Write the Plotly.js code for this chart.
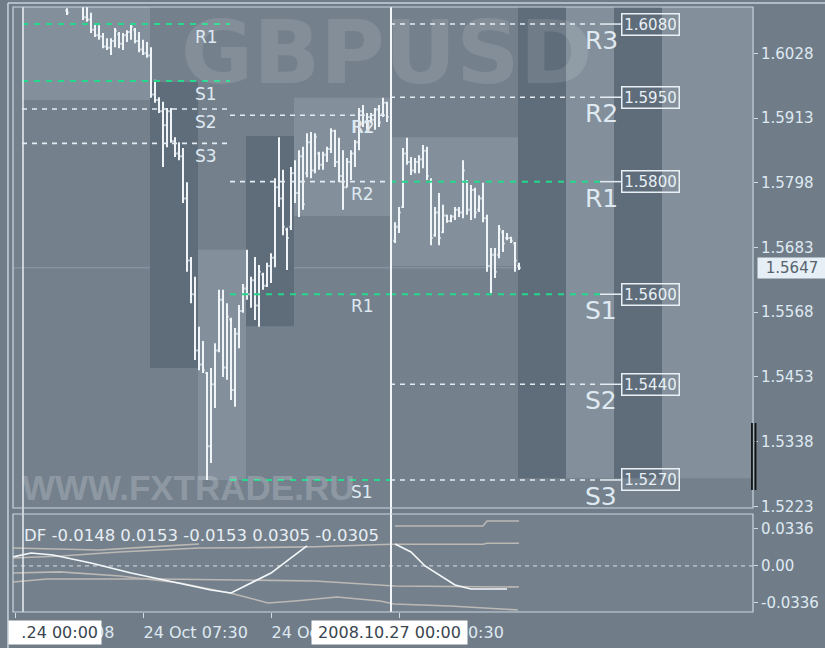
<!DOCTYPE html>
<html><head><meta charset="utf-8">
<script src="https://cdn.plot.ly/plotly-3.0.1.min.js"></script>
<style>html,body{margin:0;padding:0;background:#707d89;}</style>
</head><body>
<div id="chart" style="width:825px;height:648px"></div>
<script>
// ---- OHLC bars (15-minute GBPUSD), index 81 = Monday 00:00 bar hidden under separator ----
const barOpen = [1.6104,1.6125,1.6120,1.6118,1.6112,1.6092,1.6088,1.6070,1.6060,1.6058,1.6040,1.6038,1.6050,1.6062,1.6045,1.6060,1.6066,1.6070,1.6050,1.6035,
1.6028,1.6024,1.5955,1.5945,1.5925,1.5900,1.5925,1.5872,1.5850,1.5845,1.5770,1.5660,1.5600,1.5500,1.5475,1.5460,1.5330,1.5440,1.5500,1.5590,
1.5470,1.5555,1.5430,1.5530,1.5570,1.5610,1.5600,1.5625,1.5580,1.5635,1.5615,1.5650,1.5665,1.5790,1.5770,1.5715,1.5720,1.5815,1.5780,1.5845,
1.5815,1.5870,1.5820,1.5850,1.5830,1.5848,1.5858,1.5890,1.5835,1.5810,1.5790,1.5835,1.5850,1.5870,1.5925,1.5905,1.5915,1.5910,1.5928,1.5920,
1.5940,null,1.5695,1.5720,1.5755,1.5850,1.5835,1.5820,1.5835,1.5840,1.5855,1.5800,1.5705,1.5745,1.5710,1.5740,1.5730,1.5738,1.5750,1.5745,
1.5800,1.5750,1.5785,1.5750,1.5770,1.5735,1.5650,1.5670,1.5670,1.5710,1.5700,1.5700,1.5690,1.5650];
const barHigh = [1.6108,1.6135,1.6130,1.6126,1.6118,1.6115,1.6100,1.6082,1.6078,1.6064,1.6055,1.6055,1.6073,1.6066,1.6064,1.6069,1.6082,1.6073,1.6066,1.6052,
1.6048,1.6039,1.5981,1.5950,1.5942,1.5931,1.5931,1.5879,1.5870,1.5860,1.5799,1.5666,1.5631,1.5542,1.5517,1.5462,1.5469,1.5513,1.5608,1.5608,
1.5584,1.5558,1.5540,1.5581,1.5618,1.5679,1.5631,1.5666,1.5652,1.5638,1.5656,1.5673,1.5806,1.5879,1.5821,1.5718,1.5826,1.5838,1.5856,1.5862,
1.5886,1.5888,1.5886,1.5853,1.5853,1.5862,1.5895,1.5892,1.5878,1.5856,1.5842,1.5856,1.5874,1.5931,1.5936,1.5922,1.5922,1.5931,1.5936,1.5949,
1.5942,null,1.5728,1.5755,1.5860,1.5878,1.5844,1.5842,1.5847,1.5865,1.5862,1.5806,1.5755,1.5780,1.5759,1.5741,1.5741,1.5755,1.5755,1.5838,
1.5803,1.5794,1.5789,1.5776,1.5798,1.5741,1.5682,1.5682,1.5723,1.5714,1.5709,1.5702,1.5693,1.5656];
const barLow = [1.6096,1.6115,1.6114,1.6112,1.6087,1.6084,1.6064,1.6057,1.6052,1.6037,1.6034,1.6025,1.6039,1.6037,1.6034,1.6048,1.6052,1.6046,1.6030,1.6025,
1.6020,1.5949,1.5940,1.5922,1.5826,1.5861,1.5869,1.5844,1.5838,1.5762,1.5640,1.5584,1.5483,1.5465,1.5460,1.5270,1.5300,1.5398,1.5497,1.5453,
1.5448,1.5412,1.5400,1.5504,1.5567,1.5590,1.5576,1.5554,1.5542,1.5608,1.5613,1.5620,1.5648,1.5755,1.5705,1.5643,1.5714,1.5762,1.5737,1.5750,
1.5808,1.5806,1.5815,1.5821,1.5821,1.5835,1.5851,1.5826,1.5799,1.5750,1.5790,1.5803,1.5826,1.5856,1.5897,1.5892,1.5904,1.5892,1.5897,1.5915,
1.5906,null,1.5691,1.5709,1.5753,1.5830,1.5812,1.5815,1.5815,1.5824,1.5803,1.5687,1.5702,1.5687,1.5709,1.5727,1.5728,1.5732,1.5737,1.5735,
1.5741,1.5732,1.5735,1.5746,1.5728,1.5640,1.5602,1.5629,1.5664,1.5675,1.5696,1.5691,1.5640,1.5643];
const barClose = [1.6100,1.6120,1.6118,1.6115,1.6092,1.6088,1.6070,1.6060,1.6058,1.6040,1.6038,1.6050,1.6068,1.6045,1.6060,1.6066,1.6075,1.6050,1.6035,1.6028,
1.6024,1.5955,1.5945,1.5925,1.5900,1.5925,1.5872,1.5850,1.5845,1.5770,1.5660,1.5600,1.5500,1.5475,1.5465,1.5330,1.5440,1.5500,1.5590,1.5470,
1.5560,1.5430,1.5530,1.5570,1.5610,1.5600,1.5625,1.5580,1.5640,1.5615,1.5650,1.5665,1.5790,1.5770,1.5720,1.5700,1.5815,1.5780,1.5845,1.5760,
1.5870,1.5820,1.5880,1.5830,1.5848,1.5858,1.5890,1.5835,1.5810,1.5790,1.5835,1.5850,1.5870,1.5925,1.5905,1.5915,1.5910,1.5928,1.5905,1.5940,
1.5915,null,1.5720,1.5745,1.5850,1.5835,1.5820,1.5835,1.5840,1.5855,1.5810,1.5700,1.5745,1.5700,1.5740,1.5730,1.5738,1.5750,1.5745,1.5820,
1.5750,1.5785,1.5745,1.5770,1.5735,1.5650,1.5670,1.5640,1.5715,1.5690,1.5700,1.5695,1.5660,1.5647];
const lastPrice = 1.5647;

// ---- pivot levels ----
const prevLevels = [1.6080, 1.5979, 1.5929, 1.5868];
const prevNames  = ["R1", "S1", "S2", "S3"];
const prevGreen  = [true, true, false, false];
const midLevels  = [1.5918, 1.5800, 1.5600, 1.5270];
const midNames   = ["R1", "R2", "R1", "S1"];
const midGreen   = [false, false, true, true];
const curLevels  = [1.6080, 1.5950, 1.5800, 1.5600, 1.5440, 1.5270];
const curNames   = ["R3", "R2", "R1", "S1", "S2", "S3"];
const curGreen   = [false, false, true, true, false, false];

// ---- DF indicator lines (bar index, value) ----
const dfWhiteX = [-13.5,-9,-3.5,6,16,27,36,41,45,51,56,60,null,82,86,89.5,93,97,101,110];
const dfWhite  = [0.0082,0.0118,0.0100,0.0027,-0.0064,-0.0145,-0.0218,-0.0245,-0.0173,-0.0064,0.0073,0.0182,null,0.0200,0.0127,0.0000,-0.0082,-0.0173,-0.0209,-0.0209];
const dfG1X = [-13.5,-3.5,8,21,33];
const dfG1  = [0.0163,0.0154,0.0145,0.0173,0.0200];
const dfG2X = [-13.5,-1.5,13,33,45,62,81,104,105,113];
const dfG2  = [0.0073,0.0091,0.0127,0.0163,0.0166,0.0175,0.0197,0.0197,0.0206,0.0206];
const dfAX  = [82,104,105,113];
const dfA   = [0.0363,0.0363,0.0409,0.0409];
const dfCX  = [-13.5,-5,23,62,82,113];
const dfC   = [-0.0145,-0.0118,-0.0118,-0.0136,-0.0182,-0.0191];
const dfDX  = [-13.5,-1.75,13.25,28.25,41.75,50.25,57,67.5,78.25,81.75,95.75,112.75];
const dfD   = [-0.0064,-0.0054,-0.0091,-0.0154,-0.0254,-0.0336,-0.0318,-0.0282,-0.0318,-0.0345,-0.0363,-0.0400];
const dfReadout = "DF -0.0148 0.0153 -0.0153 0.0305 -0.0305";

// ---- axis ticks ----
const priceTicks = [1.6028,1.5913,1.5798,1.5683,1.5568,1.5453,1.5338,1.5223];
const dfTicks = [0.0336, 0, -0.0336];
const dfTickText = ["0.0336", "0.00", "-0.0336"];
const timeTickIdx = [-13, 19, 51, 83];
const timeTickText = ["24 Oct 2008", "24 Oct 07:30", "24 Oct 15:30", "27 Oct 00:30"];

const barX = barOpen.map((_, k) => k);
const WHITE = '#eef4f8', GREEN = '#22d98c', TXT = '#dfe9f1';
const LIGHT = '#83909c', DARK = '#5f6c7a';
const FONT = 'DejaVu Sans';

const traces = [];
traces.push({type:'ohlc', x: barX, open: barOpen, high: barHigh, low: barLow, close: barClose,
  xaxis:'x', yaxis:'y', tickwidth: 0.4, line:{width:2},
  increasing:{line:{color:WHITE, width:2}}, decreasing:{line:{color:WHITE, width:2}},
  hoverinfo:'skip', showlegend:false});

function lvl(x0, x1, v, green, dash) {
  traces.push({type:'scatter', mode:'lines', x:[x0,x1], y:[v,v], xaxis:'x', yaxis:'y',
    line:{color: green ? GREEN : '#e4ecf1', width: green ? 2 : 1.6, dash: dash},
    hoverinfo:'skip', showlegend:false});
}
prevLevels.forEach((v,k)=> lvl(-11.25, 40.75, v, prevGreen[k], prevGreen[k] ? '6px,6px' : '5px,5px'));
midLevels.forEach((v,k)=> lvl(40.75, 80.75, v, midGreen[k], midGreen[k] ? '6px,6px' : '5px,5px'));
curLevels.forEach((v,k)=> { lvl(80.75, 133.25, v, curGreen[k], curGreen[k] ? '6px,6px' : '5px,5px');
  traces.push({type:'scatter', mode:'lines', x:[133.25,138.5], y:[v,v], xaxis:'x', yaxis:'y',
    line:{color:'#e4ecf1', width:1.5}, hoverinfo:'skip', showlegend:false}); });

function df(x, y, color, w) {
  traces.push({type:'scatter', mode:'lines', x:x, y:y, xaxis:'x', yaxis:'y2', connectgaps:false,
    line:{color:color, width:w}, hoverinfo:'skip', showlegend:false});
}
const GREY = '#bcb8b4';
df(dfG1X, dfG1, GREY, 1.6); df(dfG2X, dfG2, GREY, 1.6); df(dfAX, dfA, GREY, 1.6);
df(dfCX, dfC, GREY, 1.6); df(dfDX, dfD, GREY, 1.6); df(dfWhiteX, dfWhite, '#f4f8fa', 1.6);

// ---- layout ----
const yMainDomain = [0.1719, 1], yDfDomain = [0, 0.162];
const shapes = [];
function rect(x0,x1,y0,y1,c){ shapes.push({type:'rect', xref:'x', yref:'y', x0, x1, y0, y1, fillcolor:c, line:{width:0}, layer:'below'}); }
rect(-11.25, 20.75, 1.5945, 1.62, LIGHT);
rect(20.75, 32.75, 1.5469, 1.5977, DARK);
rect(32.75, 44.75, 1.5270, 1.5679, LIGHT);
rect(44.75, 56.75, 1.5543, 1.5881, DARK);
rect(56.75, 80.75, 1.5739, 1.5949, LIGHT);
rect(80.75, 112.75, 1.5650, 1.5879, LIGHT);
rect(112.75, 124.75, 1.5273, 1.62, DARK);
rect(124.75, 136.75, 1.5273, 1.62, LIGHT);
rect(136.75, 148.75, 1.5273, 1.62, DARK);
rect(148.75, 171.25, 1.5273, 1.62, LIGHT);
// current price line
shapes.push({type:'line', xref:'paper', yref:'y', x0:0, x1:1, y0:lastPrice, y1:lastPrice, line:{color:'#8e9ba7', width:1}, layer:'below'});
// zero line in DF panel
shapes.push({type:'line', xref:'paper', yref:'y2', x0:0, x1:1, y0:0, y1:0, line:{color:'#c4ccd3', width:1.2, dash:'4px,4px'}, layer:'below'});
// day separators
shapes.push({type:'line', xref:'x', yref:'paper', x0:-11, x1:-11, y0:0, y1:1, line:{color:'#e8eef2', width:1.5}});
shapes.push({type:'line', xref:'x', yref:'paper', x0:81, x1:81, y0:0, y1:1, line:{color:'#f2f6f8', width:2}});
// panel frames
shapes.push({type:'rect', xref:'paper', yref:'paper', x0:0, x1:1, y0:yMainDomain[0], y1:1, line:{color:'#c9d7e2', width:1.2}});
shapes.push({type:'rect', xref:'paper', yref:'paper', x0:0, x1:1, y0:0, y1:yDfDomain[1], line:{color:'#c9d7e2', width:1.2}});
// window border
shapes.push({type:'line', xref:'paper', yref:'paper', x0:-0.0068, x1:-0.0068, y0:-0.06, y1:1.0066, line:{color:'#c5d3de', width:1.5}});
shapes.push({type:'line', xref:'paper', yref:'paper', x0:-0.0068, x1:1.1, y0:1.0066, y1:1.0066, line:{color:'#c5d3de', width:1.5}});
// black spread marker at right edge
shapes.push({type:'line', xref:'paper', yref:'paper', x0:0.9986, x1:0.9986, y0:0.2017, y1:0.3124, line:{color:'#111', width:1.8}});
shapes.push({type:'line', xref:'paper', yref:'paper', x0:1.0034, x1:1.0034, y0:0.2017, y1:0.3124, line:{color:'#111', width:1.8}});

const ann = [];
// watermarks
ann.push({xref:'paper', yref:'paper', x:0.505, y:0.924, text:'<b>GBPUSD</b>', showarrow:false,
  font:{family:FONT, size:88, color:'rgba(255,255,255,0.11)'}, xanchor:'center', yanchor:'middle'});
ann.push({xref:'paper', yref:'paper', x:0.0095, y:0.205, text:'<b>WWW.FXTRADE.RU</b>', showarrow:false,
  font:{family:'Liberation Sans', size:35, color:'rgba(255,255,255,0.2)'}, xanchor:'left', yanchor:'middle'});
// level labels
prevLevels.forEach((v,k)=> ann.push({xref:'x', yref:'y', x:31.5, y:v, yshift:-13, text:prevNames[k], showarrow:false,
  xanchor:'left', yanchor:'middle', font:{family:FONT, size:17, color:TXT}}));
midLevels.forEach((v,k)=> ann.push({xref:'x', yref:'y', x:70.5, y:v, yshift:-12, text:midNames[k], showarrow:false,
  xanchor:'left', yanchor:'middle', font:{family:FONT, size:17, color:TXT}}));
ann.push({xref:'x', yref:'y', x:70.5, y:midLevels[0], yshift:-12, xshift:1, text:'R2', showarrow:false,
  xanchor:'left', yanchor:'middle', font:{family:FONT, size:17, color:TXT}});
curLevels.forEach((v,k)=> {
  ann.push({xref:'x', yref:'y', x:129, y:v, yshift:-16.5, text:curNames[k], showarrow:false,
    xanchor:'left', yanchor:'middle', font:{family:FONT, size:25, color:TXT}});
  ann.push({xref:'x', yref:'y', x:138.5, y:v, text:v.toFixed(4), showarrow:false, xanchor:'left', yanchor:'middle',
    font:{family:FONT, size:15, color:'#e8f0f5'}, bordercolor:'#e8f0f5', borderwidth:1.5, borderpad:2, width:52, height:16});
});
// current price tag
ann.push({xref:'paper', yref:'y', x:1, xshift:4, y:lastPrice, text:lastPrice.toFixed(4), showarrow:false, xanchor:'left', yanchor:'middle',
  font:{family:FONT, size:15, color:'#56626e'}, bgcolor:'#e6eff5', borderpad:3, width:62, height:14});
// DF readout
ann.push({xref:'paper', yref:'paper', x:0.012, y:0.127, text:dfReadout, showarrow:false, xanchor:'left', yanchor:'middle',
  font:{family:FONT, size:16.5, color:'#e8eef3'}});
// crosshair time boxes
ann.push({xref:'paper', yref:'paper', x:-0.0068, y:-0.0347, text:'.24 00:00', showarrow:false, xanchor:'left', yanchor:'middle',
  font:{family:FONT, size:16, color:'#3a4550'}, bgcolor:'#ffffff', borderpad:3, width:86, height:17, align:'right'});
ann.push({xref:'x', yref:'paper', x:81, xshift:-2, y:-0.0347, text:'2008.10.27 00:00', showarrow:false, xanchor:'center', yanchor:'middle',
  font:{family:FONT, size:16, color:'#3a4550'}, bgcolor:'#ffffff', borderpad:3, width:149, height:17});

const layout = {
  width:825, height:648, margin:{l:13, r:72, t:7, b:36},
  paper_bgcolor:'#707d89', plot_bgcolor:'#74818d', showlegend:false, hovermode:false,
  xaxis:{anchor:'y2', domain:[0,1], range:[-13.5,171.5], showgrid:false, zeroline:false, showline:false,
    rangeslider:{visible:false}, tickvals:timeTickIdx, ticktext:timeTickText, ticks:'outside', ticklen:5,
    ticklabelstandoff:6,
    tickcolor:'#cfdbe4', ticklabelposition:'outside right', tickfont:{family:FONT, size:16, color:TXT}},
  yaxis:{domain:yMainDomain, anchor:'x', side:'right', range:[1.52202,1.61103], showgrid:false, zeroline:false,
    tickvals:priceTicks, ticktext:priceTicks.map(v=>v.toFixed(4)), ticks:'outside', ticklen:4, tickcolor:'#cfdbe4',
    tickfont:{family:FONT, size:15, color:TXT}},
  yaxis2:{domain:yDfDomain, anchor:'x', side:'right', range:[-0.0418,0.0472], showgrid:false, zeroline:false,
    tickvals:dfTicks, ticktext:dfTickText, ticks:'outside', ticklen:4, tickcolor:'#cfdbe4',
    tickfont:{family:FONT, size:15, color:TXT}},
  shapes:shapes, annotations:ann
};
Plotly.newPlot('chart', traces, layout, {displayModeBar:false, staticPlot:true});
</script>
</body></html>
